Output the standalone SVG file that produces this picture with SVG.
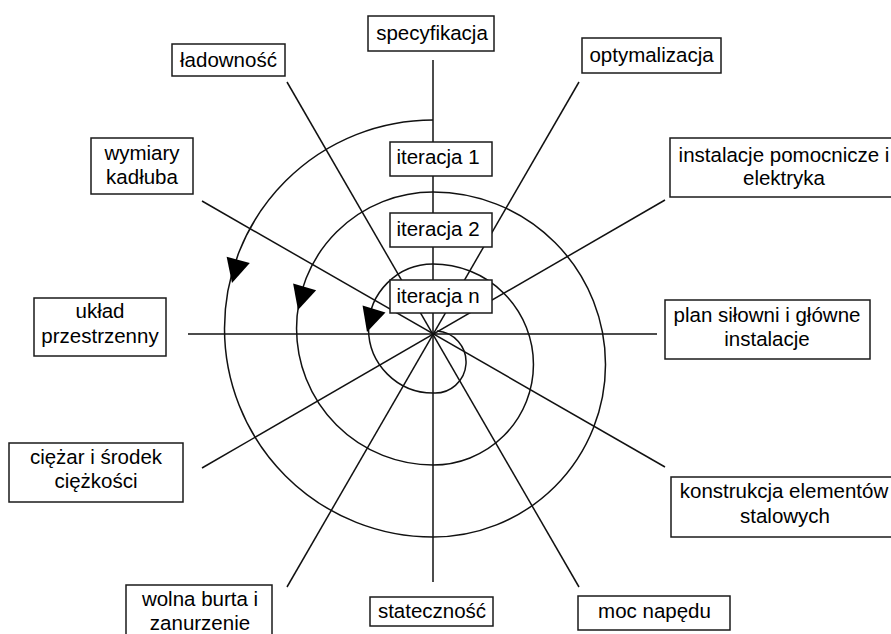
<svg xmlns="http://www.w3.org/2000/svg" width="891" height="634" viewBox="0 0 891 634">
<style>
.bx{fill:#fff;stroke:#1a1a1a;stroke-width:1.5}
.ln{stroke:#111;stroke-width:1.5;fill:none}
.t{font-family:"Liberation Sans",Arial,sans-serif;font-size:20.5px;fill:#000;text-anchor:middle}
</style>
<defs>
<polygon id="arr" points="0,0 -24,-12 -24,12" fill="#000"/>
</defs>
<rect width="891" height="634" fill="#fff"/>
<g id="connectors">
<line class="ln" x1="433" y1="60" x2="433" y2="582"/>
<line class="ln" x1="188" y1="334" x2="657" y2="334"/>
<line class="ln" x1="202" y1="201" x2="665" y2="467"/>
<line class="ln" x1="665" y1="200" x2="202" y2="468"/>
<line class="ln" x1="287" y1="82" x2="579" y2="587"/>
<line class="ln" x1="579" y1="82" x2="287" y2="587"/>
</g>
<g id="spiral">
<path class="ln" d="M433,120 A208.5,208.5 0 0 0 433,537 A172.5,172.5 0 0 0 433,192 A136.5,136.5 0 0 0 433,465 A100.5,100.5 0 0 0 433,264 A64.5,64.5 0 0 0 433,393 A31,31 0 0 0 437,331"/>
<use href="#arr" transform="translate(232,283) rotate(105)"/>
<use href="#arr" transform="translate(298,310) rotate(106)"/>
<use href="#arr" transform="translate(367,332) rotate(107)"/>
</g>
<g id="specyfikacja"><rect class="bx" x="368" y="16" width="126" height="35"/><text class="t" x="432" y="40">specyfikacja</text></g>
<g id="ladownosc"><rect class="bx" x="172" y="44" width="113" height="32"/><text class="t" x="228.5" y="67">ładowność</text></g>
<g id="optymalizacja"><rect class="bx" x="582" y="38" width="139" height="35"/><text class="t" x="651.5" y="62">optymalizacja</text></g>
<g id="wymiary"><rect class="bx" x="91" y="138" width="102" height="56"/><text class="t" x="142" y="160">wymiary</text><text class="t" x="142" y="184">kadłuba</text></g>
<g id="iteracja1"><rect class="bx" x="390" y="142" width="102" height="34"/><text class="t" x="438" y="164">iteracja 1</text></g>
<g id="iteracja2"><rect class="bx" x="390" y="213" width="102" height="34"/><text class="t" x="438" y="236">iteracja 2</text></g>
<g id="iteracjan"><rect class="bx" x="390" y="280" width="102" height="33"/><text class="t" x="438" y="303">iteracja n</text></g>
<g id="instalacje"><rect class="bx" x="670" y="138" width="230" height="59"/><text class="t" x="784" y="162">instalacje pomocnicze i</text><text class="t" x="784" y="185">elektryka</text></g>
<g id="plan"><rect class="bx" x="665" y="300" width="205" height="59"/><text class="t" x="767" y="322">plan siłowni i główne</text><text class="t" x="767" y="346">instalacje</text></g>
<g id="konstrukcja"><rect class="bx" x="671" y="477" width="230" height="60"/><text class="t" x="784" y="498">konstrukcja elementów</text><text class="t" x="785" y="523">stalowych</text></g>
<g id="moc"><rect class="bx" x="578" y="596" width="152" height="34"/><text class="t" x="654.5" y="618">moc napędu</text></g>
<g id="statecznosc"><rect class="bx" x="370" y="597" width="123" height="29"/><text class="t" x="432" y="618">stateczność</text></g>
<g id="wolna"><rect class="bx" x="126" y="585" width="146" height="60"/><text class="t" x="200" y="606">wolna burta i</text><text class="t" x="200" y="630">zanurzenie</text></g>
<g id="ciezar"><rect class="bx" x="9" y="443" width="174" height="59"/><text class="t" x="96" y="464">ciężar i środek</text><text class="t" x="96" y="488">ciężkości</text></g>
<g id="uklad"><rect class="bx" x="34" y="298" width="132" height="58"/><text class="t" x="100" y="318">układ</text><text class="t" x="100" y="343">przestrzenny</text></g>
</svg>
